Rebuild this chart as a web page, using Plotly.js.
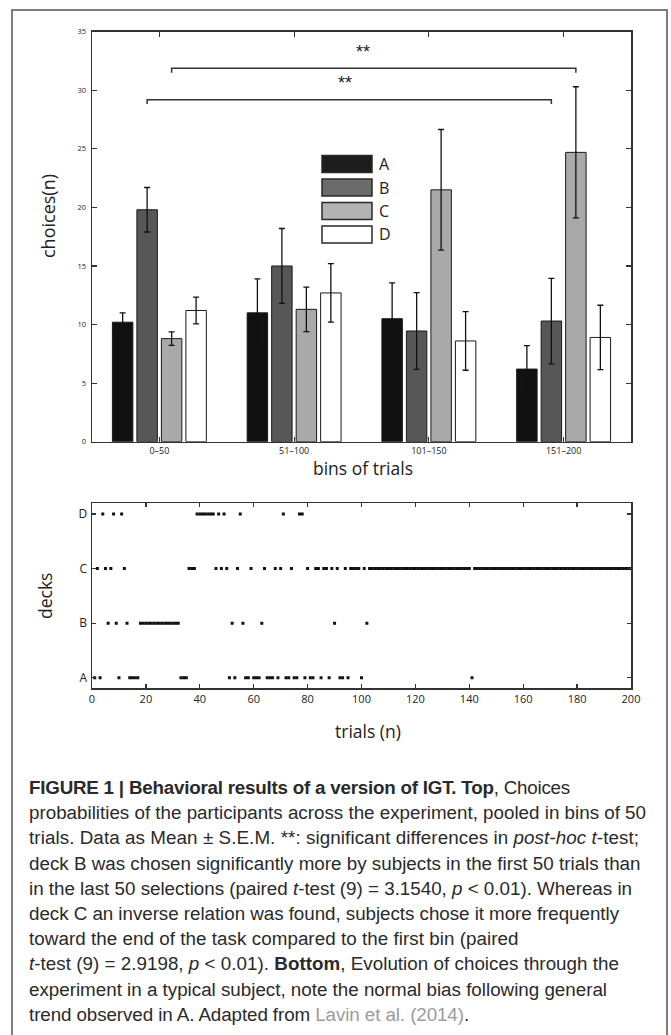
<!DOCTYPE html>
<html><head><meta charset="utf-8">
<script src="https://cdn.plot.ly/plotly-3.0.1.min.js"></script>
<style>
html,body{margin:0;padding:0;background:#fff;}
#wrap{position:relative;width:671px;height:1035px;overflow:hidden;}
#chart{position:absolute;left:0;top:0;width:671px;height:1035px;}
#caption{position:absolute;left:29px;top:775px;font-family:"Liberation Sans",Arial,sans-serif;font-size:18.8px;line-height:25.2px;color:#2a2a2a;white-space:nowrap;}
#caption .line{display:block;height:25.2px;}
#caption .ref{color:#9b9b9b;}
</style></head>
<body><div id="wrap"><div id="chart"></div><div id="caption"></div></div>
<script>
// ---------- data ----------
const bins = ['0\u201350', '51\u2013100', '101\u2013150', '151\u2013200'];
const decks = ['A', 'B', 'C', 'D'];
const meanA = [10.2, 11.0, 10.5, 6.2];
const meanB = [19.8, 15.0, 9.45, 10.3];
const meanC = [8.8, 11.3, 21.5, 24.7];
const meanD = [11.2, 12.7, 8.6, 8.9];
const semA = [0.8, 2.9, 3.05, 2.0];
const semB = [1.9, 3.2, 3.27, 3.65];
const semC = [0.57, 1.9, 5.15, 5.6];
const semD = [1.14, 2.5, 2.5, 2.75];
// deck chosen on each of the 200 trials of the typical subject
const choiceSequence = (
  'ACADCBCDBADCBAAAABBB' +
  'BBBBBBBBBBBBAAACCCDD' +
  'DDDDDCDCDCABACDBAACA' +
  'AABCAAACACDAACAADDAC' +
  'AACCACCACBCAACACCCCA' +
  'CBCCCCCCCCCCCCCCCCCC' +
  'CCCCCCCCCCCCCCCCCCCC' +
  'ACCCCCCCCCCCCCCCCCCC' +
  'CCCCCCCCCCCCCCCCCCCC' +
  'CCCCCCCCCCCCCCCCCCCC').split('');
// significance brackets (deck compared between first and last bin)
const sigTests = [
  {deck: 'B', fromBin: 0, toBin: 3, level: 29.2, label: '**', labelX: 1.38, labelY: 30.6},
  {deck: 'C', fromBin: 0, toBin: 3, level: 31.87, label: '**', labelX: 1.51, labelY: 33.3}
];

// ---------- styling ----------
const means = {A: meanA, B: meanB, C: meanC, D: meanD};
const sems = {A: semA, B: semB, C: semC, D: semD};
const barColors = {A: '#111111', B: '#575757', C: '#a9a9a9', D: '#ffffff'};
const legendColors = {A: '#1c1c1c', B: '#6b6b6b', C: '#b3b3b3', D: '#ffffff'};
const W = 671, H = 1035;
const px = x => x / W;
const py = y => 1 - y / H;
const bargap = 0.273;
const slot = (1 - bargap) / decks.length;
const deckOffset = d => (decks.indexOf(d) - (decks.length - 1) / 2) * slot;
const axisFont = {family: 'Open Sans, Liberation Sans, sans-serif', color: '#222'};
const binIdx = bins.map((b, i) => i);

const traces = [];
decks.forEach(d => {
  traces.push({
    type: 'bar', x: binIdx, y: means[d], name: d, xaxis: 'x', yaxis: 'y',
    marker: {color: barColors[d], line: {color: '#1a1a1a', width: 1}},
    error_y: {type: 'data', array: sems[d], visible: true, color: '#111', thickness: 1.3, width: 3},
    showlegend: false, hoverinfo: 'skip'
  });
});
decks.forEach((d, k) => {
  const xs = [], ys = [];
  choiceSequence.forEach((c, i) => { if (c === d) { xs.push(i + 1); ys.push(k + 1); } });
  traces.push({
    type: 'scatter', mode: 'markers', x: xs, y: ys, xaxis: 'x2', yaxis: 'y2',
    marker: {symbol: 'square', size: 3, color: '#111', line: {width: 0}},
    showlegend: false, hoverinfo: 'skip'
  });
});

const shapes = [];
const annotations = [];
// outer figure frame
shapes.push({type: 'rect', xref: 'paper', yref: 'paper', x0: px(12), x1: px(667), y0: py(1045), y1: py(10),
  line: {color: '#7d7d7d', width: 2}, fillcolor: 'rgba(0,0,0,0)'});
// significance brackets
sigTests.forEach(s => {
  const x0 = s.fromBin + deckOffset(s.deck), x1 = s.toBin + deckOffset(s.deck);
  const drop = 0.37;
  shapes.push({type: 'path', xref: 'x', yref: 'y',
    path: `M ${x0},${s.level - drop} L ${x0},${s.level} L ${x1},${s.level} L ${x1},${s.level - drop}`,
    line: {color: '#333', width: 1.5}});
  annotations.push({xref: 'x', yref: 'y', x: s.labelX, y: s.labelY, text: s.label, showarrow: false,
    font: {family: 'Liberation Sans, Arial, sans-serif', size: 18, color: '#222'}, xanchor: 'center', yanchor: 'middle'});
});
// custom legend with wide swatches
decks.forEach((d, k) => {
  const top = 155.5 + k * 23.5;
  shapes.push({type: 'rect', xref: 'paper', yref: 'paper', x0: px(322), x1: px(372), y0: py(top + 17), y1: py(top),
    fillcolor: legendColors[d], line: {color: '#2a2a2a', width: 1.5}});
  annotations.push({xref: 'paper', yref: 'paper', x: px(377), y: py(top + 8.5), text: d, showarrow: false,
    xanchor: 'left', yanchor: 'middle', font: Object.assign({}, axisFont, {size: 16})});
});
// axis titles
annotations.push({xref: 'paper', yref: 'paper', x: px(48), y: py(216), text: 'choices(n)', textangle: -90, showarrow: false,
  xanchor: 'center', yanchor: 'middle', font: Object.assign({}, axisFont, {size: 18})});
annotations.push({xref: 'paper', yref: 'paper', x: px(363), y: py(468), text: 'bins of trials', showarrow: false,
  xanchor: 'center', yanchor: 'middle', font: Object.assign({}, axisFont, {size: 17.5})});
annotations.push({xref: 'paper', yref: 'paper', x: px(45), y: py(596), text: 'decks', textangle: -90, showarrow: false,
  xanchor: 'center', yanchor: 'middle', font: Object.assign({}, axisFont, {size: 17.5})});
annotations.push({xref: 'paper', yref: 'paper', x: px(368), y: py(731), text: 'trials (n)', showarrow: false,
  xanchor: 'center', yanchor: 'middle', font: Object.assign({}, axisFont, {size: 17.5})});

const axCommon = {showline: true, linecolor: '#333', linewidth: 1.5, mirror: 'ticks', ticks: 'inside',
  tickcolor: '#333', tickwidth: 1.2, showgrid: false, zeroline: false, fixedrange: true};
const xDom = [px(92), px(631)];
const layout = {
  width: W, height: H, margin: {l: 0, r: 0, t: 0, b: 0}, paper_bgcolor: '#fff', plot_bgcolor: '#fff',
  barmode: 'group', bargap: bargap, bargroupgap: 0.165, showlegend: false,
  xaxis: Object.assign({}, axCommon, {domain: xDom, anchor: 'y', range: [-0.5, 3.5], tickvals: binIdx, ticktext: bins,
    ticklen: 5, tickfont: Object.assign({}, axisFont, {size: 9})}),
  yaxis: Object.assign({}, axCommon, {domain: [py(441.7), py(31.7)], anchor: 'x', range: [0, 35], tick0: 0, dtick: 5,
    ticklen: 5, tickfont: Object.assign({}, axisFont, {size: 7.5}), ticklabelstandoff: 3}),
  xaxis2: Object.assign({}, axCommon, {domain: xDom, anchor: 'y2', range: [0, 200], tick0: 0, dtick: 20,
    ticklen: 4, tickfont: Object.assign({}, axisFont, {size: 11})}),
  yaxis2: Object.assign({}, axCommon, {domain: [py(688.3), py(503.3)], anchor: 'x2', range: [0.806, 4.196],
    tickvals: decks.map((d, k) => k + 1), ticktext: decks, ticklen: 4,
    tickfont: Object.assign({}, axisFont, {size: 12}), ticklabelstandoff: 1}),
  shapes: shapes, annotations: annotations
};
Plotly.newPlot('chart', traces, layout, {staticPlot: true, displayModeBar: false});

// ---------- caption ----------
const captionLines = [
  '<b>FIGURE 1 | Behavioral results of a version of IGT. Top</b>, Choices',
  'probabilities of the participants across the experiment, pooled in bins of 50',
  'trials. Data as Mean \u00b1 S.E.M. **: significant differences in <i>post-hoc t</i>-test;',
  'deck B was chosen significantly more by subjects in the first 50 trials than',
  'in the last 50 selections (paired <i>t</i>-test (9) = 3.1540, <i>p</i> &lt; 0.01). Whereas in',
  'deck C an inverse relation was found, subjects chose it more frequently',
  'toward the end of the task compared to the first bin (paired',
  '<i>t</i>-test (9) = 2.9198, <i>p</i> &lt; 0.01). <b>Bottom</b>, Evolution of choices through the',
  'experiment in a typical subject, note the normal bias following general',
  'trend observed in A. Adapted from <span class="ref">Lavin et al. (2014)</span>.'
];
const lineEnds = [570, 646, 639, 640.5, 632, 619, 518.6, 619, 607, 469];
const cap = document.getElementById('caption');
const spans = captionLines.map(h => {
  const div = document.createElement('div'); div.className = 'line';
  const s = document.createElement('span'); s.innerHTML = h;
  div.appendChild(s); cap.appendChild(div); return s;
});
// fit font size to the longest line, then fine-tune each line with letter spacing
const w1 = spans[1].getBoundingClientRect().width;
if (w1 > 0) {
  const fs = 18.8 * (lineEnds[1] - 29) / w1;
  cap.style.fontSize = fs.toFixed(2) + 'px';
  spans.forEach((s, i) => {
    const w = s.getBoundingClientRect().width;
    const n = s.textContent.length;
    const ls = (lineEnds[i] - 29 - w) / n;
    if (Math.abs(ls) < 1.2) s.style.letterSpacing = ls.toFixed(3) + 'px';
  });
}
</script>
</body></html>
